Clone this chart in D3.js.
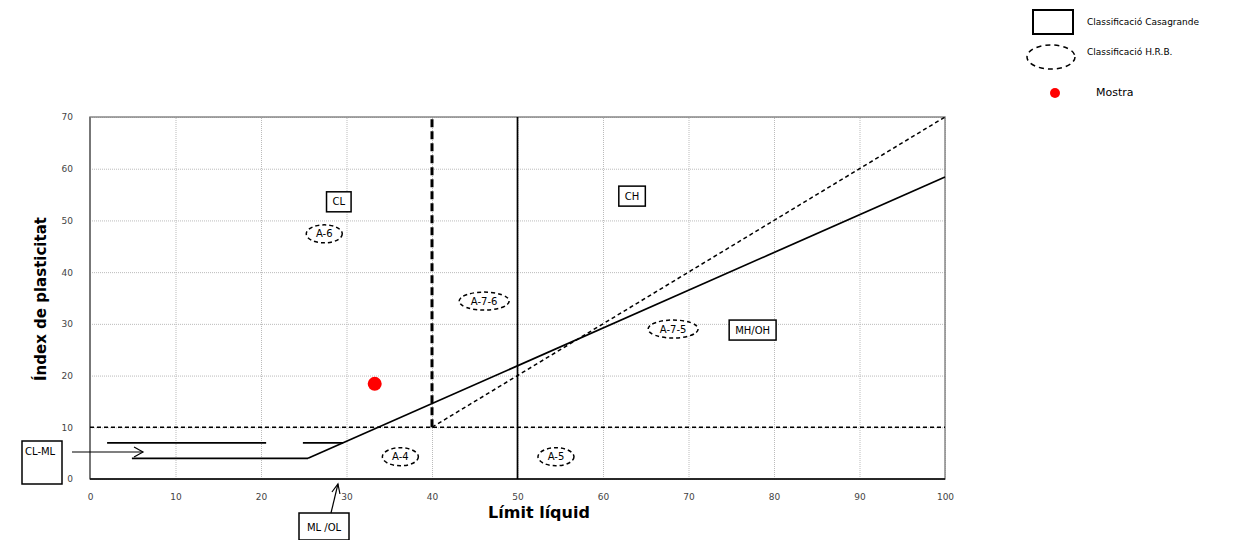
<!DOCTYPE html>
<html>
<head>
<meta charset="utf-8">
<script src="https://cdn.jsdelivr.net/npm/d3@7"></script>
<style>
body { margin: 0; background: #fff; }
svg { font-family: "DejaVu Sans", sans-serif; }
</style>
</head>
<body>
<svg width="1234" height="540"></svg>
<script>
// chart data
var xTicks = [0, 10, 20, 30, 40, 50, 60, 70, 80, 90, 100];
var yTicks = [0, 10, 20, 30, 40, 50, 60, 70];

// Casagrande A-line (PI = 0.73 (LL - 20)) and the CL-ML band
var aLine = [{x: 25.5, y: 4}, {x: 100, y: 58.4}];
var clmlTop = [{x: 2, y: 7}, {x: 20.6, y: 7}];
var clmlTop2 = [{x: 24.9, y: 7}, {x: 29.6, y: 7}];
var clmlBottom = [{x: 4.9, y: 4}, {x: 25.5, y: 4}];
var llFifty = [{x: 50, y: 0}, {x: 50, y: 70}];

// H.R.B. boundaries
var hrbPi10 = [{x: 0, y: 10}, {x: 100, y: 10}];
var hrbLl40 = [{x: 40, y: 10}, {x: 40, y: 70}];
var hrbSlope = [{x: 40, y: 10}, {x: 100, y: 70}];

// sample
var mostra = [{x: 33.3, y: 18.4}];

// labels
var boxLabels = [
  {t: "CL", x: 29.1, y: 53.6},
  {t: "CH", x: 63.4, y: 54.7},
  {t: "MH/OH", x: 77.5, y: 28.8}
];
var hrbLabels = [
  {t: "A-6", x: 27.4, y: 47.4},
  {t: "A-7-6", x: 46.1, y: 34.4},
  {t: "A-7-5", x: 68.2, y: 29.0},
  {t: "A-4", x: 36.3, y: 4.3},
  {t: "A-5", x: 54.5, y: 4.3}
];

var margin = {top: 117, left: 90, bottom: 61, right: 289};
var width = 1234, height = 540;

var svg = d3.select("svg");

var xScale = d3.scaleLinear().domain([0, 100]).range([margin.left, width - margin.right]);
var yScale = d3.scaleLinear().domain([0, 70]).range([height - margin.bottom, margin.top]);

var line = d3.line()
    .x(function(d) { return xScale(d.x); })
    .y(function(d) { return yScale(d.y); });

// grid
svg.append("g")
   .attr("transform", `translate(0, ${yScale(0)})`)
   .call(d3.axisBottom(xScale).tickValues(xTicks).tickSize(-(yScale(0) - yScale(70))).tickFormat(""))
   .call(function(g) {
     g.select(".domain").remove();
     g.selectAll("line").attr("stroke", "#bbb").attr("stroke-dasharray", "1,1");
   });
svg.append("g")
   .attr("transform", `translate(${xScale(0)}, 0)`)
   .call(d3.axisLeft(yScale).tickValues(yTicks).tickSize(-(xScale(100) - xScale(0))).tickFormat(""))
   .call(function(g) {
     g.select(".domain").remove();
     g.selectAll("line").attr("stroke", "#bbb").attr("stroke-dasharray", "1,1");
   });

// frame
svg.append("rect")
   .attr("x", xScale(0)).attr("y", yScale(70))
   .attr("width", xScale(100) - xScale(0)).attr("height", yScale(0) - yScale(70))
   .attr("fill", "none").attr("stroke", "#888").attr("stroke-width", 1.5);
svg.append("line")
   .attr("x1", xScale(0)).attr("x2", xScale(0)).attr("y1", yScale(0)).attr("y2", yScale(70))
   .attr("stroke", "#777").attr("stroke-width", 2);
svg.append("line")
   .attr("x1", xScale(0)).attr("x2", xScale(100)).attr("y1", yScale(0)).attr("y2", yScale(0))
   .attr("stroke", "#000").attr("stroke-width", 1.5);

// tick labels
var xAxis = svg.append("g")
   .attr("transform", `translate(0, ${yScale(0) + 12})`)
   .call(d3.axisBottom(xScale).tickValues(xTicks).tickSize(0));
xAxis.select(".domain").remove();
xAxis.selectAll("text").attr("font-size", 9).attr("fill", "#444").attr("font-family", "DejaVu Sans");

var yAxis = svg.append("g")
   .attr("transform", `translate(${xScale(0) - 14}, 0)`)
   .call(d3.axisLeft(yScale).tickValues(yTicks).tickSize(0));
yAxis.select(".domain").remove();
yAxis.selectAll("text").attr("font-size", 9).attr("fill", "#444").attr("font-family", "DejaVu Sans");

// axis titles
svg.append("text")
   .attr("text-anchor", "middle")
   .attr("x", 539).attr("y", 518)
   .attr("font-size", 16).attr("font-weight", "bold")
   .text("Límit líquid");
svg.append("text")
   .attr("text-anchor", "middle")
   .attr("transform", "translate(46," + 299 + ")rotate(-90)")
   .attr("font-size", 15).attr("font-weight", "bold")
   .text("Índex de plasticitat");

// H.R.B. lines
svg.append("path").attr("d", line(hrbPi10))
   .attr("fill", "none").attr("stroke", "#000").attr("stroke-width", 1.5).attr("stroke-dasharray", "4,3");
svg.append("path").attr("d", line(hrbLl40))
   .attr("fill", "none").attr("stroke", "#000").attr("stroke-width", 3).attr("stroke-dasharray", "8,4");
svg.append("path").attr("d", line(hrbSlope))
   .attr("fill", "none").attr("stroke", "#000").attr("stroke-width", 1.5).attr("stroke-dasharray", "4,3");

// Casagrande lines
[aLine, clmlTop, clmlTop2, clmlBottom, llFifty].forEach(function(seg) {
  svg.append("path").attr("d", line(seg))
     .attr("fill", "none").attr("stroke", "#000").attr("stroke-width", 1.7);
});

// sample point
svg.selectAll(".mostra").data(mostra).enter().append("circle")
   .attr("cx", function(d) { return xScale(d.x); })
   .attr("cy", function(d) { return yScale(d.y); })
   .attr("r", 7).attr("fill", "red");

// boxed labels
boxLabels.forEach(function(d) {
  var g = svg.append("g").attr("transform", `translate(${xScale(d.x)}, ${yScale(d.y)})`);
  var t = g.append("text").attr("font-size", 10).attr("dominant-baseline", "central")
     .attr("text-anchor", "middle").text(d.t);
  var w = t.node().getComputedTextLength() + 12;
  g.insert("rect", "text").attr("x", -w / 2).attr("y", -10).attr("width", w).attr("height", 20)
   .attr("fill", "#fff").attr("stroke", "#000").attr("stroke-width", 1.5);
});

// H.R.B. ellipses
hrbLabels.forEach(function(d) {
  var g = svg.append("g").attr("transform", `translate(${xScale(d.x)}, ${yScale(d.y)})`);
  var rx = d.t.length > 3 ? 25 : 18;
  g.append("ellipse").attr("rx", rx).attr("ry", 9)
   .attr("fill", "#fff").attr("stroke", "#000").attr("stroke-width", 1.5).attr("stroke-dasharray", "4,3");
  g.append("text").attr("font-size", 10).attr("dominant-baseline", "central")
   .attr("text-anchor", "middle").text(d.t);
});

// CL-ML annotation
svg.append("rect").attr("x", 22).attr("y", 441).attr("width", 40).attr("height", 43)
   .attr("fill", "#fff").attr("stroke", "#000").attr("stroke-width", 1.5);
svg.append("text").attr("x", 25).attr("y", 455).attr("font-size", 10).text("CL-ML");
svg.append("line").attr("x1", 72).attr("y1", 452).attr("x2", xScale(6.2)).attr("y2", 452)
   .attr("stroke", "#000").attr("stroke-width", 1.2);
svg.append("path").attr("d", `M${xScale(6.2) - 9},447 L${xScale(6.2)},452 L${xScale(6.2) - 9},457`)
   .attr("fill", "none").attr("stroke", "#000").attr("stroke-width", 1.2);

// ML/OL annotation
svg.append("rect").attr("x", 299).attr("y", 513).attr("width", 50).attr("height", 27)
   .attr("fill", "#fff").attr("stroke", "#000").attr("stroke-width", 1.5);
svg.append("text").attr("x", 324).attr("y", 531).attr("font-size", 10).attr("text-anchor", "middle").text("ML /OL");
svg.append("line").attr("x1", 331).attr("y1", 513).attr("x2", xScale(29)).attr("y2", yScale(0) + 5)
   .attr("stroke", "#000").attr("stroke-width", 1.2);
svg.append("path").attr("d", `M${xScale(29) - 6},${yScale(0) + 13} L${xScale(29)},${yScale(0) + 5} L${xScale(29) + 2},${yScale(0) + 15}`)
   .attr("fill", "none").attr("stroke", "#000").attr("stroke-width", 1.2);

// legend
var legend = svg.append("g");
legend.append("rect").attr("x", 1033).attr("y", 10).attr("width", 40).attr("height", 24)
   .attr("fill", "none").attr("stroke", "#000").attr("stroke-width", 2);
legend.append("text").attr("x", 1087).attr("y", 25).attr("font-size", 9).text("Classificació Casagrande");
legend.append("ellipse").attr("cx", 1051).attr("cy", 57).attr("rx", 24).attr("ry", 12)
   .attr("fill", "none").attr("stroke", "#000").attr("stroke-width", 1.5).attr("stroke-dasharray", "5,4");
legend.append("text").attr("x", 1087).attr("y", 55).attr("font-size", 9).text("Classificació H.R.B.");
legend.append("circle").attr("cx", 1055).attr("cy", 93).attr("r", 5).attr("fill", "red");
legend.append("text").attr("x", 1096).attr("y", 96).attr("font-size", 11).text("Mostra");
</script>
</body>
</html>
